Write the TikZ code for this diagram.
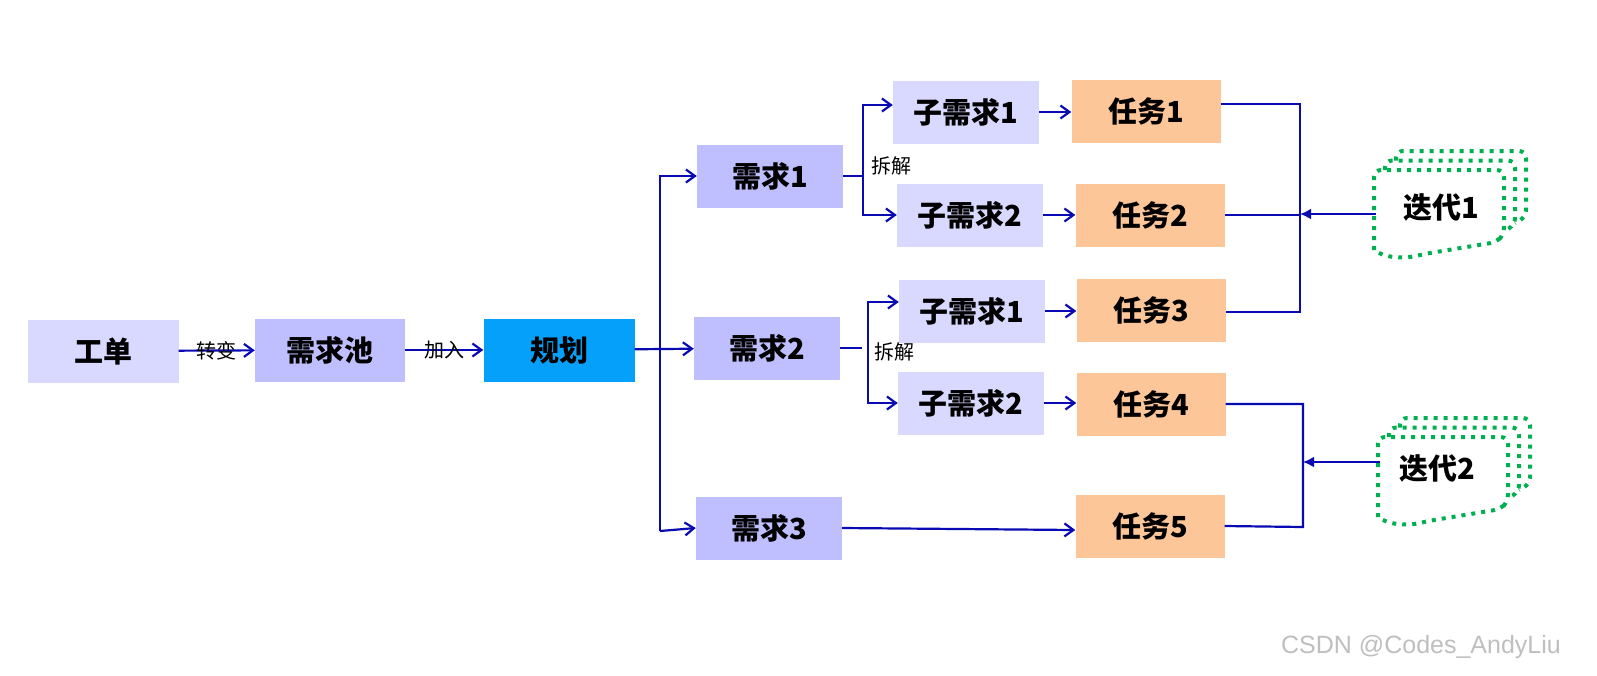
\documentclass[tikz,border=0pt]{standalone}
\usepackage{fontspec}
\newfontfamily\cjk{Noto Sans CJK SC}
\newfontfamily\wmfont{Liberation Sans}
\usetikzlibrary{arrows.meta}
\definecolor{lavlight}{RGB}{217,217,255}
\definecolor{lavmid}{RGB}{191,191,255}
\definecolor{planblue}{RGB}{5,160,250}
\definecolor{taskpeach}{RGB}{253,198,153}
\definecolor{linkblue}{RGB}{10,10,180}
\definecolor{itergreen}{RGB}{0,176,80}
\tikzset{
  box/.style={inner sep=0pt, minimum width=146pt, minimum height=63pt, text=black,
    font=\cjk\bfseries\fontsize{29}{34}\selectfont},
  reqbox/.style={box, fill=lavmid},
  subbox/.style={box, fill=lavlight},
  taskbox/.style={box, fill=taskpeach, minimum width=149pt},
  link/.style={draw=linkblue, line width=2.2pt},
  linkarrow/.style={link, -{Straight Barb[length=9pt,width=13pt]}},
  smalltext/.style={inner sep=0pt, text=black, font=\cjk\fontsize{20}{24}\selectfont},
  iterline/.style={draw=itergreen, line width=4pt, dash pattern=on 4pt off 6pt, rounded corners=7pt},
  iterarrow/.style={draw=linkblue, line width=2pt, -{Latex[length=11pt,width=11pt]}},
  iterdoc/.pic={
    \draw[iterline] (0,80) -- (0,0) -- (130,0) -- (130,64) -- (123,72) -- (50,84) .. controls (30,89) and (10,88) .. (0,80);
    \draw[iterline] (11,0) -- (11,-9.5) -- (141,-9.5) -- (141,55) -- (130,61);
    \draw[iterline] (22,-9.5) -- (22,-19) -- (152,-19) -- (152,47) -- (141,53);
  }
}
\begin{document}
\begin{tikzpicture}[x=1pt,y=-1pt]
\useasboundingbox[fill=white] (0,0) rectangle (1597,675);
% left chain
\node[subbox, minimum width=151pt] (wo) at (103,351) {工单};
\node[reqbox, minimum width=150pt] (pool) at (330,350) {需求池};
\node[box, fill=planblue, minimum width=151pt] (plan) at (559,350) {规划};
\draw[linkarrow] (wo) -- node[smalltext]{转变} (pool);
\draw[linkarrow] (pool) -- node[smalltext]{加入} (plan);
% requirements
\node[reqbox] (req1) at (770,176) {需求1};
\node[reqbox] (req2) at (767,348) {需求2};
\node[reqbox] (req3) at (769,528) {需求3};
\coordinate (TB) at (660,531); % trunk bottom
\draw[linkarrow] (plan) -- (req2);
\draw[linkarrow] (TB) |- (req1.west);
\draw[linkarrow] (TB) -- (req3.west);
% sub requirements
\node[subbox] (sub11) at (966,112) {子需求1};
\node[subbox] (sub12) at (970,215) {子需求2};
\node[subbox] (sub21) at (972,311) {子需求1};
\node[subbox] (sub22) at (971,403) {子需求2};
\coordinate (S1) at (863,176); % split 1
\coordinate (S2) at (868,348); % split 2
\draw[link] (req1.east) -- (S1);
\draw[linkarrow] (S1) |- ([yshift=7pt]sub11.west);
\draw[linkarrow] (S1) |- (sub12.west);
\node[smalltext, anchor=west] at (871,166) {拆解};
\draw[link] (req2.east) -- ++(22,0);
\draw[linkarrow] (S2) |- ([yshift=9pt]sub21.west);
\draw[linkarrow] (S2) |- (sub22.west);
\node[smalltext, anchor=west] at (874,352) {拆解};
% tasks
\node[taskbox] (task1) at (1146,111) {任务1};
\node[taskbox] (task2) at (1150,215) {任务2};
\node[taskbox] (task3) at (1151,310) {任务3};
\node[taskbox] (task4) at (1151,404) {任务4};
\node[taskbox] (task5) at (1150,526) {任务5};
\draw[linkarrow] (sub11.east) -- (sub11.east -| task1.west);
\draw[linkarrow] (sub12.east) -- (sub12.east -| task2.west);
\draw[linkarrow] (sub21.east) -- (sub21.east -| task3.west);
\draw[linkarrow] (sub22.east) -- (sub22.east -| task4.west);
\draw[linkarrow] (req3.east) -- ([yshift=-4pt]task5.west);
% iterations
\coordinate (BT) at (1300,104); % bracket 1 top
\coordinate (BB) at (1300,312); % bracket 1 bottom
\draw[link] ([yshift=7pt]task1.east) -- (BT) -- (BB) -- (BB -| task3.east);
\draw[link] (task2.east) -- (task2.east -| BT);
\coordinate (CB) at (1303,527); % bracket 2 bottom
\draw[link] (task4.east) -| (CB) -- (task5.east);
\pic at (1374,170) {iterdoc};
\pic at (1378,437) {iterdoc};
\node[box, minimum width=0pt, minimum height=0pt] (it1) at (1441,207) {迭代1};
\node[box, minimum width=0pt, minimum height=0pt] (it2) at (1437,468) {迭代2};
\coordinate (I1) at (1376,214); % iteration 1 left
\coordinate (I2) at (1380,462); % iteration 2 left
\draw[iterarrow] (I1) -- (I1 -| BT);
\draw[iterarrow] (I2) -- (I2 -| CB);
\node[text=black!25, font=\wmfont\fontsize{25}{30}\selectfont, inner sep=0pt] (mark) at (1421,647) {CSDN @Codes\_AndyLiu};
\end{tikzpicture}
\end{document}
